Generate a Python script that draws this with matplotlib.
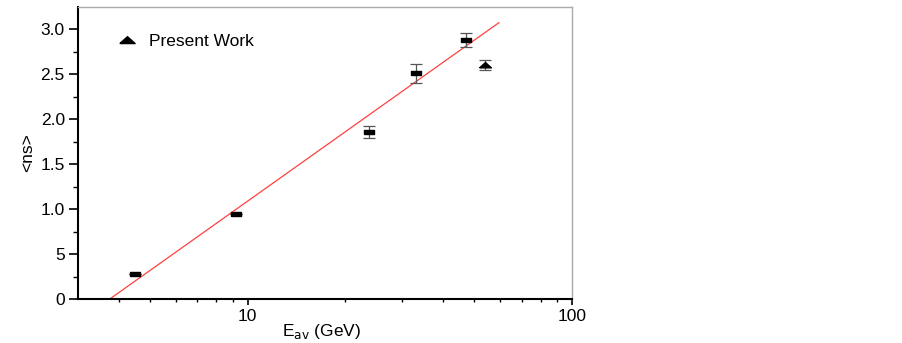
import numpy as np
import matplotlib.pyplot as plt
from matplotlib.lines import Line2D
from matplotlib.ticker import FixedLocator, NullFormatter

plt.rcParams['font.family'] = ['Liberation Sans', 'DejaVu Sans']

# earlier measurements
e_av = [4.5, 9.2, 23.7, 33.1, 47.2]
ns = [0.28, 0.945, 1.86, 2.51, 2.88]
ns_err = [0.0, 0.0, 0.067, 0.105, 0.075]

# present work
e_pw = [54.0]
ns_pw = [2.60]
ns_pw_err = [0.06]

# linear fit in log10(E)
fit_slope = 2.56
fit_x0 = 3.76
fit_range = [3.76, 59.5]

y_ticks = [0, 0.5, 1.0, 1.5, 2.0, 2.5, 3.0]
y_labels = ['0', '5', '1.0', '1.5', '2.0', '2.5', '3.0']

rect = [(-1, -0.5), (1, -0.5), (1, 0.5), (-1, 0.5), (-1, -0.5)]
tri = [(-1, -0.4), (1, -0.4), (0, 0.5), (-1, -0.4)]

fig = plt.figure(figsize=(9.03, 3.43), dpi=100)
ax = fig.add_axes([78 / 903, 44 / 343, 494 / 903, 292 / 343])

xf = np.logspace(np.log10(fit_range[0]), np.log10(fit_range[1]), 50)
ax.plot(xf, fit_slope * np.log10(xf / fit_x0), color='#ff4040', lw=0.9, zorder=1)

ax.errorbar(e_av, ns, yerr=ns_err, fmt='none', ecolor='#555555',
            elinewidth=0.9, capsize=4, capthick=0.9, zorder=2)
ax.plot(e_av, ns, linestyle='none', marker=rect, markersize=6.8,
        color='black', zorder=3)

ax.errorbar(e_pw, ns_pw, yerr=ns_pw_err, fmt='none', ecolor='#555555',
            elinewidth=0.9, capsize=4, capthick=0.9, zorder=2)
ax.plot(e_pw, ns_pw, linestyle='none', marker=tri, markersize=8.5,
        color='black', zorder=3)

ax.set_xscale('log')
ax.set_xlim(3.0, 100)
ax.set_ylim(0, 3.245)

ax.xaxis.set_major_locator(FixedLocator([10, 100]))
ax.set_xticklabels(['10', '100'])
ax.xaxis.set_minor_locator(FixedLocator([4, 5, 6, 7, 8, 9, 20, 30, 40, 50, 60, 70, 80, 90]))
ax.xaxis.set_minor_formatter(NullFormatter())
ax.set_yticks(y_ticks)
ax.set_yticklabels(y_labels)
ax.yaxis.set_minor_locator(FixedLocator(np.arange(0.25, 3.25, 0.5)))

ax.tick_params(axis='both', which='both', direction='out', labelsize=12.5,
               top=False, right=False)
ax.tick_params(axis='x', which='major', length=4, width=1.2, pad=3)
ax.tick_params(axis='x', which='minor', length=2.5, width=1.0)
ax.tick_params(axis='y', which='major', length=6.5, width=1.2, pad=3)
ax.tick_params(axis='y', which='minor', length=3.5, width=1.0)

for side in ['left', 'bottom']:
    ax.spines[side].set_linewidth(1.5)
    ax.spines[side].set_color('black')
for side in ['top', 'right']:
    ax.spines[side].set_linewidth(1.0)
    ax.spines[side].set_color('#aaaaaa')

ax.set_xlabel('E$_{\\mathrm{av}}$ (GeV)', fontsize=12.5)
ax.xaxis.set_label_coords(0.492, -0.08)
ax.set_ylabel('<ns>', fontsize=12.5, labelpad=4)

handle = Line2D([], [], linestyle='none', marker=tri, markersize=11, color='black')
ax.legend([handle], ['Present Work'], loc='upper left', frameon=False,
          fontsize=12.5, handlelength=1.0, handletextpad=0.8,
          bbox_to_anchor=(0.049, 0.96))

fig.savefig('out.png', dpi=100)
